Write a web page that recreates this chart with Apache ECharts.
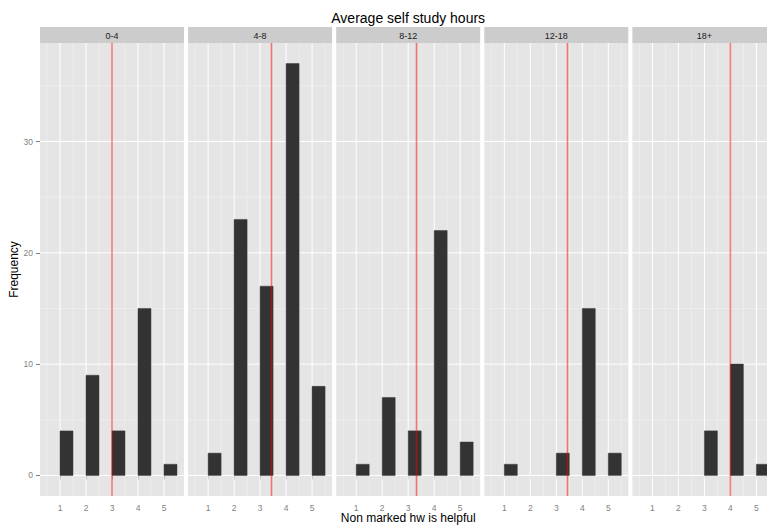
<!DOCTYPE html>
<html>
<head>
<meta charset="utf-8">
<style>
  html, body { margin: 0; padding: 0; background: #ffffff; overflow: hidden; width: 767px; height: 525px; }
  /* the drawing is wider than the window: the last facet runs off the right edge */
  #chart { width: 780px; height: 525px; }
</style>
<script src="https://cdn.jsdelivr.net/npm/echarts@6/dist/echarts.min.js"></script>
</head>
<body>
<div id="chart"></div>
<script>
// Facets: average self study hours groups
const groups = ['0-4', '4-8', '8-12', '12-18', '18+'];
// Response levels on the x axis
const levels = [1, 2, 3, 4, 5];
// Frequency of each response per group
const counts04 = [4, 9, 4, 15, 1];
const counts48 = [2, 23, 17, 37, 8];
const counts812 = [1, 7, 4, 22, 3];
const counts1218 = [1, 0, 2, 15, 2];
const counts18p = [0, 0, 4, 10, 1];
const countsByGroup = [counts04, counts48, counts812, counts1218, counts18p];
// Reference (red) line per group
const refLines = [3.0, 3.44, 3.32, 3.43, 4.0];
// Tick labels
const xTicks = [1, 2, 3, 4, 5];
const xMinor = [0.5, 1.5, 2.5, 3.5, 4.5, 5.5];
const yTicks = [0, 10, 20, 30];
const yMinor = [5, 15, 25, 35];

const binWidth = 0.5;
const X_MIN = 0.23, X_MAX = 5.77;
const Y_MIN = -1.85, Y_MAX = 38.85;

const PANEL_LEFT = 40, PANEL_STEP = 148.1, PANEL_W = 144;
const PANEL_TOP = 43, PANEL_BOTTOM = 29;
const STRIP_TOP = 27, STRIP_H = 16;
const FONT = '"Liberation Sans", Arial, Helvetica, sans-serif';

const chart = echarts.init(document.getElementById('chart'), null, { renderer: 'svg' });

const grids = [], xAxes = [], yAxes = [], series = [], graphics = [];

groups.forEach((g, i) => {
  const left = PANEL_LEFT + PANEL_STEP * i;
  grids.push({
    left: left, top: PANEL_TOP, width: PANEL_W, bottom: PANEL_BOTTOM,
    show: true, backgroundColor: '#E5E5E5', borderWidth: 0, containLabel: false
  });
  xAxes.push({
    type: 'value', gridIndex: i, min: X_MIN, max: X_MAX,
    axisLine: { show: false },
    splitLine: { show: false },
    axisTick: { show: true, customValues: xTicks, length: 4, lineStyle: { color: '#7f7f7f', width: 1 } },
    axisLabel: { show: true, customValues: xTicks, margin: 7, color: '#7f7f7f', fontSize: 8.5, fontFamily: FONT }
  });
  yAxes.push({
    type: 'value', gridIndex: i, min: Y_MIN, max: Y_MAX,
    axisLine: { show: false },
    splitLine: { show: false },
    axisTick: { show: i === 0, customValues: yTicks, length: 4, lineStyle: { color: '#7f7f7f', width: 1 } },
    axisLabel: { show: i === 0, customValues: yTicks, margin: 7, color: '#7f7f7f', fontSize: 8.5, fontFamily: FONT },
    name: i === 0 ? 'Frequency' : '',
    nameLocation: 'middle', nameGap: 19, nameRotate: 90,
    nameTextStyle: { color: '#000000', fontSize: 12, fontFamily: FONT }
  });

  // panel grid lines (minor first, then major)
  const gridData = [];
  xMinor.forEach(v => gridData.push([0, v, 0]));
  yMinor.forEach(v => gridData.push([1, v, 0]));
  xTicks.forEach(v => gridData.push([0, v, 1]));
  yTicks.forEach(v => gridData.push([1, v, 1]));
  series.push({
    type: 'custom', xAxisIndex: i, yAxisIndex: i, z: 1, silent: true,
    data: gridData,
    renderItem: function (params, api) {
      const cs = params.coordSys;
      const vertical = api.value(0) === 0;
      const v = api.value(1);
      const major = api.value(2) === 1;
      const style = { stroke: major ? '#FFFFFF' : '#F2F2F2', lineWidth: major ? 1 : 0.6 };
      if (vertical) {
        const p = api.coord([v, 0]);
        return { type: 'line', shape: { x1: p[0], y1: cs.y, x2: p[0], y2: cs.y + cs.height }, style: style };
      }
      const p = api.coord([X_MIN, v]);
      return { type: 'line', shape: { x1: cs.x, y1: p[1], x2: cs.x + cs.width, y2: p[1] }, style: style };
    }
  });

  // histogram bars: each bin spans [level, level + binWidth]
  series.push({
    type: 'custom', xAxisIndex: i, yAxisIndex: i, z: 2, name: g,
    data: levels.map((lv, k) => [lv, countsByGroup[i][k]]).filter(d => d[1] > 0),
    clip: true,
    renderItem: function (params, api) {
      const p0 = api.coord([api.value(0), 0]);
      const p1 = api.coord([api.value(0) + binWidth, api.value(1)]);
      return {
        type: 'rect',
        shape: { x: p0[0], y: p1[1], width: p1[0] - p0[0], height: p0[1] - p1[1] },
        style: { fill: '#333333', stroke: '#3a3a3a', lineWidth: 0.5 }
      };
    }
  });

  // reference line
  series.push({
    type: 'custom', xAxisIndex: i, yAxisIndex: i, z: 3, silent: true,
    data: [[refLines[i]]],
    clip: true,
    renderItem: function (params, api) {
      const cs = params.coordSys;
      const p = api.coord([api.value(0), 0]);
      return {
        type: 'line',
        shape: { x1: p[0], y1: cs.y, x2: p[0], y2: cs.y + cs.height },
        style: { stroke: 'rgba(255,0,0,0.5)', lineWidth: 1.6 }
      };
    }
  });

  // facet strip
  graphics.push({
    type: 'rect', x: left, y: STRIP_TOP,
    shape: { x: 0, y: 0, width: PANEL_W, height: STRIP_H },
    style: { fill: '#CCCCCC' }, silent: true
  });
  graphics.push({
    type: 'text', x: left + PANEL_W / 2, y: STRIP_TOP + STRIP_H / 2 + 0.5,
    style: { text: g, fill: '#1A1A1A', fontSize: 9, fontFamily: FONT, align: 'center', verticalAlign: 'middle' },
    silent: true
  });
});

const plotCenter = PANEL_LEFT + (PANEL_STEP * 4 + PANEL_W) / 2;
graphics.push({
  type: 'text', x: plotCenter, y: 18,
  style: { text: 'Average self study hours', fill: '#000000', fontSize: 14, fontFamily: FONT, align: 'center', verticalAlign: 'middle' },
  silent: true
});
graphics.push({
  type: 'text', x: plotCenter, y: 518,
  style: { text: 'Non marked hw is helpful', fill: '#000000', fontSize: 12, fontFamily: FONT, align: 'center', verticalAlign: 'middle' },
  silent: true
});

chart.setOption({
  animation: false,
  backgroundColor: '#FFFFFF',
  grid: grids,
  xAxis: xAxes,
  yAxis: yAxes,
  series: series,
  graphic: graphics
});
</script>
</body>
</html>
